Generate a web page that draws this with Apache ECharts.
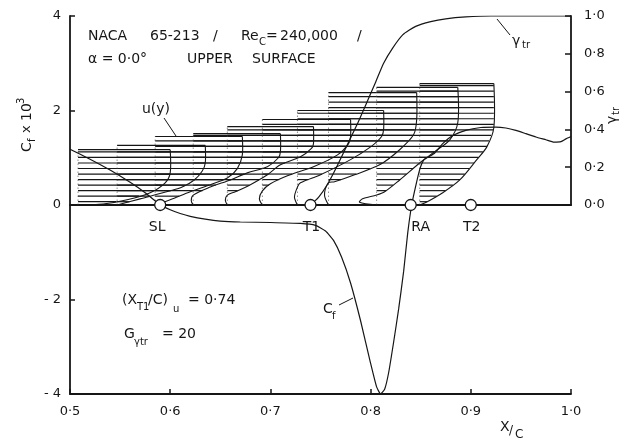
<!DOCTYPE html>
<html>
<head>
<meta charset="utf-8">
<script src="https://cdn.jsdelivr.net/npm/echarts@6/dist/echarts.min.js"></script>
<style>
html, body { margin: 0; padding: 0; background: #fff; }
#chart { width: 634px; height: 440px; }
</style>
</head>
<body>
<div id="chart"></div>
<script>
// ---- axes ----
const xTicks = [0.5, 0.6, 0.7, 0.8, 0.9, 1.0];
const cfTicks = [-4, -2, 0, 2, 4];
const gammaTicks = [0.0, 0.2, 0.4, 0.6, 0.8, 1.0];

// ---- skin friction coefficient Cf x 10^3 along the upper surface ----
const cfX = [0.50, 0.52, 0.54, 0.56, 0.575, 0.59, 0.60, 0.61, 0.62, 0.635, 0.65, 0.67, 0.70, 0.73,
  0.745, 0.755, 0.763, 0.771, 0.78, 0.79, 0.80, 0.806, 0.81, 0.814, 0.818, 0.823, 0.828, 0.833,
  0.837, 0.841, 0.845, 0.849, 0.853, 0.858, 0.864, 0.872, 0.882, 0.895, 0.91, 0.925, 0.935, 0.945,
  0.955, 0.965, 0.975, 0.983, 0.99, 0.995, 1.0];
const cfY = [1.18, 0.97, 0.74, 0.48, 0.26, 0.0, -0.1, -0.18, -0.24, -0.30, -0.34, -0.36, -0.37, -0.39,
  -0.43, -0.55, -0.75, -1.1, -1.65, -2.45, -3.35, -3.85, -4.0, -3.9, -3.55, -2.9, -2.2, -1.4,
  -0.6, 0.0, 0.4, 0.75, 0.95, 1.02, 1.1, 1.3, 1.47, 1.58, 1.64, 1.65, 1.63, 1.58,
  1.51, 1.44, 1.38, 1.33, 1.34, 1.4, 1.45];

// ---- intermittency distribution gamma_tr ----
const gammaX = [0.74, 0.748, 0.757, 0.766, 0.776, 0.786, 0.796, 0.805, 0.813, 0.822, 0.832, 0.845, 0.86, 0.875, 0.895, 0.92, 1.0];
const gammaY = [0.0, 0.04, 0.11, 0.20, 0.31, 0.42, 0.54, 0.65, 0.75, 0.83, 0.90, 0.945, 0.97, 0.985, 0.995, 1.0, 1.0];

// ---- characteristic points on the surface ----
const markerX = [0.59, 0.74, 0.84, 0.90];
const markerNames = ['SL', 'T1', 'RA', 'T2'];

// ---- mean velocity profiles u(y): station, then (u offset, height) pairs from wall to edge ----
const profileStations = [0.508, 0.547, 0.585, 0.623, 0.657, 0.692, 0.727, 0.758, 0.806, 0.849];
const profileU = [
  [0, 0.025, 0.049, 0.072, 0.087, 0.092, 0.092],
  [0, 0.023, 0.053, 0.065, 0.077, 0.085, 0.088, 0.088],
  [0, 0.015, 0.035, 0.055, 0.072, 0.082, 0.087, 0.087],
  [0, -0.002, 0, 0.017, 0.037, 0.054, 0.074, 0.085, 0.087, 0.087],
  [0, -0.002, 0, 0.008, 0.023, 0.040, 0.053, 0.073, 0.084, 0.086, 0.086],
  [0, -0.003, 0, 0.008, 0.025, 0.051, 0.075, 0.086, 0.088, 0.088],
  [0, -0.003, 0, 0.003, 0.023, 0.053, 0.073, 0.084, 0.086, 0.086],
  [0, -0.004, 0, 0.006, 0.026, 0.051, 0.071, 0.085, 0.088, 0.088],
  [0, -0.017, -0.014, 0, 0.008, 0.023, 0.043, 0.058, 0.073, 0.081, 0.081],
  [0, 0.005, 0.023, 0.040, 0.057, 0.067, 0.074, 0.074]
];
const profileH = [
  [0, 0.02, 0.11, 0.26, 0.47, 0.68, 1.17],
  [0, 0.13, 0.30, 0.38, 0.53, 0.72, 0.89, 1.26],
  [0, 0.11, 0.28, 0.43, 0.57, 0.77, 1.06, 1.45],
  [0, 0.09, 0.21, 0.38, 0.53, 0.68, 0.81, 1.00, 1.13, 1.51],
  [0, 0.10, 0.21, 0.28, 0.43, 0.64, 0.85, 1.02, 1.20, 1.30, 1.66],
  [0, 0.13, 0.30, 0.45, 0.62, 0.81, 1.06, 1.30, 1.45, 1.81],
  [0, 0.17, 0.38, 0.47, 0.64, 0.96, 1.23, 1.45, 1.60, 2.00],
  [0, 0.21, 0.47, 0.49, 0.64, 0.85, 1.17, 1.49, 1.81, 2.38],
  [0, 0.06, 0.13, 0.21, 0.28, 0.53, 0.89, 1.13, 1.38, 1.74, 2.49],
  [0, 0.04, 0.26, 0.53, 0.96, 1.23, 1.64, 2.57]
];

const INK = '#161616';
const FONT = 'DejaVu Sans';
const HATCH_START = 0.07;   // first hatch level (Cf units)
const HATCH_STEP = 0.117;   // hatch spacing (Cf units)
const dotFmt = v => v.toFixed(1).replace('.', '\u00b7');

// velocity offset of a profile at a given height
function uAt(us, hs, y) {
  for (let k = 0; k < hs.length - 1; k++) {
    if (y >= hs[k] && y <= hs[k + 1]) {
      const t = hs[k + 1] === hs[k] ? 0 : (y - hs[k]) / (hs[k + 1] - hs[k]);
      return us[k] + t * (us[k + 1] - us[k]);
    }
  }
  return 0;
}

function renderProfile(params, api) {
  const x0 = api.value(0);
  const i = api.value(2);
  const us = profileU[i], hs = profileH[i];
  const n = hs.length;
  const top = hs[n - 1];
  const children = [];
  // hatching between wall line and profile
  for (let y = HATCH_START; y < top - 0.03; y += HATCH_STEP) {
    const u = uAt(us, hs, y);
    if (u > 0.003) {
      const a = api.coord([x0, y]), b = api.coord([x0 + u, y]);
      children.push({ type: 'line', shape: { x1: a[0], y1: a[1], x2: b[0], y2: b[1] },
        style: { stroke: INK, lineWidth: 1.2 } });
    }
  }
  // wall reference line (faint)
  const b0 = api.coord([x0, 0]), b1 = api.coord([x0, top]);
  children.push({ type: 'line', shape: { x1: b0[0], y1: b0[1], x2: b1[0], y2: b1[1] },
    style: { stroke: '#444', lineWidth: 0.6, lineDash: [1.5, 2.5] } });
  // profile curve from wall to edge
  const pts = us.map((u, k) => api.coord([x0 + u, hs[k]]));
  children.push({ type: 'polyline', shape: { points: pts, smooth: 0.3 },
    style: { stroke: INK, lineWidth: 1.1, fill: null } });
  // square top edge
  const tr = api.coord([x0 + us[n - 1], top]);
  children.push({ type: 'line', shape: { x1: b1[0], y1: b1[1], x2: tr[0], y2: tr[1] },
    style: { stroke: INK, lineWidth: 1.2 } });
  return { type: 'group', children };
}

const axisLabelStyle = { color: INK, fontFamily: FONT, fontSize: 13 };

const option = {
  backgroundColor: '#fff',
  animation: false,
  grid: [
    { left: 70, right: 63, top: 16, bottom: 46 },
    { left: 70, right: 63, top: 16, height: 189 }
  ],
  xAxis: [
    { gridIndex: 0, type: 'value', min: xTicks[0], max: xTicks[xTicks.length - 1], interval: 0.1,
      axisLine: { show: true, onZero: false, lineStyle: { color: INK, width: 1.8 } },
      axisTick: { show: true, inside: true, length: 5, lineStyle: { color: INK, width: 1.5 } },
      axisLabel: Object.assign({ formatter: dotFmt, margin: 11 }, axisLabelStyle),
      splitLine: { show: false } },
    { gridIndex: 1, type: 'value', min: xTicks[0], max: xTicks[xTicks.length - 1], interval: 0.1,
      axisLine: { show: true, onZero: false, lineStyle: { color: INK, width: 1.8 } },
      axisTick: { show: false }, axisLabel: { show: false }, splitLine: { show: false } }
  ],
  yAxis: [
    { gridIndex: 0, type: 'value', min: cfTicks[0], max: cfTicks[cfTicks.length - 1], interval: 2,
      position: 'left',
      axisLine: { show: true, onZero: false, lineStyle: { color: INK, width: 1.8 } },
      axisTick: { show: true, inside: true, length: 5, lineStyle: { color: INK, width: 1.5 } },
      axisLabel: Object.assign({ formatter: v => (v < 0 ? '- ' + (-v) : String(v)), margin: 9 }, axisLabelStyle),
      splitLine: { show: false } },
    { gridIndex: 1, type: 'value', min: gammaTicks[0], max: gammaTicks[gammaTicks.length - 1], interval: 0.2,
      position: 'right',
      axisLine: { show: true, onZero: false, lineStyle: { color: INK, width: 1.8 } },
      axisTick: { show: true, inside: true, length: 6, lineStyle: { color: INK, width: 1.5 } },
      axisLabel: Object.assign({ formatter: dotFmt, margin: 13 }, axisLabelStyle),
      splitLine: { show: false } }
  ],
  series: [
    { type: 'custom', xAxisIndex: 0, yAxisIndex: 0, clip: false, z: 2,
      renderItem: renderProfile,
      data: profileStations.map((x, i) => [x, 0, i]) },
    { type: 'line', xAxisIndex: 0, yAxisIndex: 0, symbol: 'none', smooth: 0.15, z: 3,
      lineStyle: { color: INK, width: 1.2 },
      data: cfX.map((x, i) => [x, cfY[i]]) },
    { type: 'line', xAxisIndex: 1, yAxisIndex: 1, symbol: 'none', smooth: 0.2, z: 3,
      lineStyle: { color: INK, width: 1.2 },
      data: gammaX.map((x, i) => [x, gammaY[i]]) },
    { type: 'scatter', xAxisIndex: 1, yAxisIndex: 1, clip: false, z: 5,
      symbol: 'circle', symbolSize: 11,
      itemStyle: { color: '#fff', borderColor: INK, borderWidth: 1.3, opacity: 1 },
      label: { show: true, position: 'bottom', distance: 9, formatter: p => p.name,
        color: INK, fontFamily: FONT, fontSize: 14 },
      data: markerX.map((x, i) => ({ name: markerNames[i], value: [x, 0],
        label: { offset: [markerNames[i] === 'RA' ? 10 : (markerNames[i] === 'SL' ? -3 : 1), 0] } })) }
  ]
};

// annotation text pieces
function txt(x, y, s, size, extra) {
  return Object.assign({ type: 'text', x, y, z: 10,
    style: { text: s, fill: INK, fontFamily: FONT, fontSize: size || 14, align: 'left', verticalAlign: 'middle' } }, extra || {});
}
function seg(x1, y1, x2, y2) {
  return { type: 'line', z: 10, shape: { x1, y1, x2, y2 }, style: { stroke: INK, lineWidth: 1 } };
}

option.graphic = [
  // case description
  txt(88, 36, 'NACA'), txt(150, 36, '65-213'), txt(213, 36, '/'),
  txt(241, 36, 'Re'), txt(259, 42, 'C', 10), txt(266, 36, '='), txt(280, 36, '240,000'), txt(357, 36, '/'),
  txt(88, 59, '\u03b1 = 0\u00b70\u00b0'), txt(187, 59, 'UPPER'), txt(252, 59, 'SURFACE'),
  // profile label
  txt(142, 109, 'u(y)'), seg(164, 118, 176, 136),
  // transition parameters
  txt(122, 300, '(X'), txt(137, 307, 'T1', 10), txt(148, 300, '/C)'), txt(173, 309, 'u', 10), txt(188, 300, '= 0\u00b774'),
  txt(124, 334, 'G'), txt(134, 342, '\u03b3tr', 10), txt(162, 334, '= 20'),
  // curve labels
  txt(323, 309, 'C'), txt(332, 316, 'f', 10), seg(339, 305, 353, 298),
  txt(512, 41, '\u03b3'), txt(522, 45, 'tr', 10), seg(497, 19, 510, 35),
  // x axis title
  txt(500, 427, 'X'), txt(509, 431, '/', 12), txt(515, 435, 'C', 12),
  // left axis title
  { type: 'group', x: 27, y: 152, rotation: Math.PI / 2, z: 10, children: [
    txt(0, 0, 'C'), txt(10, 5, 'f', 10), txt(19, 0, 'x', 13), txt(31, 0, '10'), txt(48, -6, '3', 10)
  ] },
  // right axis title
  { type: 'group', x: 612, y: 124, rotation: Math.PI / 2, z: 10, children: [
    txt(0, 0, '\u03b3'), txt(9, 4, 'tr', 10)
  ] }
];

const chart = echarts.init(document.getElementById('chart'), null, { renderer: 'canvas' });
chart.setOption(option);
</script>
</body>
</html>
